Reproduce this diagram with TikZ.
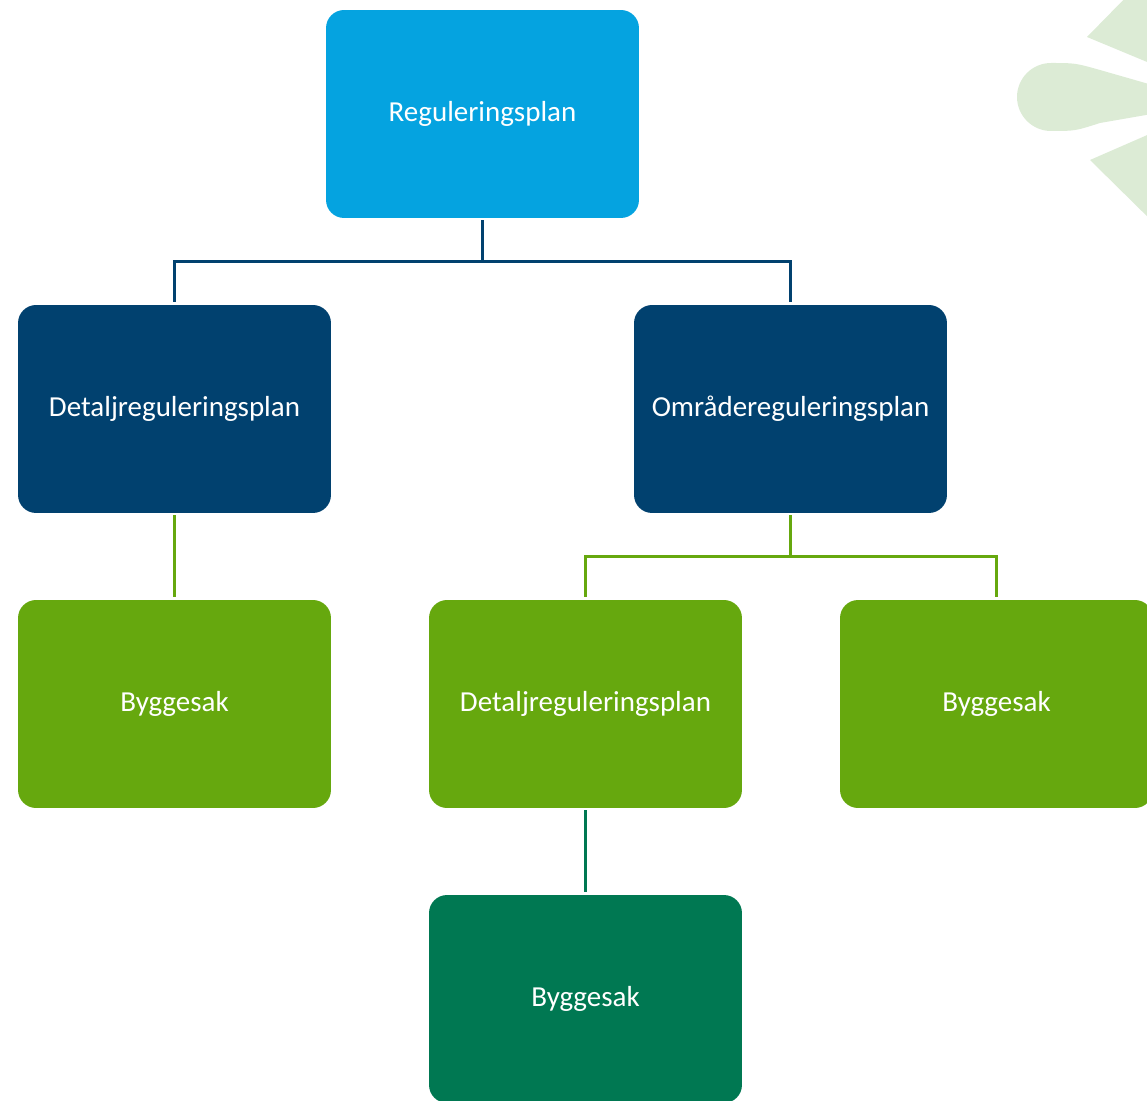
\documentclass[tikz,border=0pt]{standalone}
\usepackage{fontspec}
\setmainfont{Carlito}
\usetikzlibrary{positioning}

\definecolor{planblue}{HTML}{05A3E0}
\definecolor{navy}{HTML}{01416F}
\definecolor{leaf}{HTML}{66A80E}
\definecolor{forest}{HTML}{007852}
\definecolor{petal}{HTML}{DCEBD5}

\tikzset{
        box/.style={ % Sets the properties for each plan box
            rectangle,
            rounded corners=0.36cm,
            minimum width=6.26cm,
            minimum height=4.16cm,
            text=white,
            font=\fontsize{16.5}{20}\selectfont},
        link/.style={ % Elbow connectors between the boxes
            draw,
            line width=1.4pt,
            shorten <=0.04cm,
            shorten >=0.05cm}
        }

\begin{document}
\begin{tikzpicture}[x=0.02cm, y=-0.02cm]
    \useasboundingbox (0,0) rectangle (1147,1101);

    % leaf ornament in the corner
    \fill[petal] (1087,37) -- (1135,-12) -- (1200,-12) -- (1200,84) -- cycle;
    \fill[petal] (1051,97) circle[radius=0.68cm];
    \fill[petal] (1051,63) .. controls (1075,63) .. (1100,70) -- (1215,103)
        -- (1100,123) .. controls (1075,131) .. (1051,131) -- cycle;
    \fill[petal] (1090,160) -- (1200,112) -- (1200,229) -- (1160,229) -- cycle;

    \node[box,fill=planblue] (reg)    at (482.5,114) {Reguleringsplan};
    \node[box,fill=navy]     (detA)   at (174.5,409) {Detaljreguleringsplan};
    \node[box,fill=navy]     (omr)    at (790.5,409) {Områdereguleringsplan};
    \node[box,fill=leaf]     (byggA)  at (174.5,704) {Byggesak};
    \node[box,fill=leaf]     (detB)   at (585.5,704) {Detaljreguleringsplan};
    \node[box,fill=leaf]     (byggB)  at (996.5,704) {Byggesak};
    \node[box,fill=forest]   (byggC)  at (585.5,999) {Byggesak};

    \draw[link,navy] (reg.south) -- ++(0,43) coordinate (forkA) -| (detA.north);
    \draw[link,navy,shorten <=0pt] (forkA) -| (omr.north);

    \draw[link,leaf] (detA) -- (byggA);
    \draw[link,leaf] (omr.south) -- ++(0,43) coordinate (forkB) -| (detB.north);
    \draw[link,leaf,shorten <=0pt] (forkB) -| (byggB.north);

    \draw[link,forest] (detB) -- (byggC);
\end{tikzpicture}
\end{document}
